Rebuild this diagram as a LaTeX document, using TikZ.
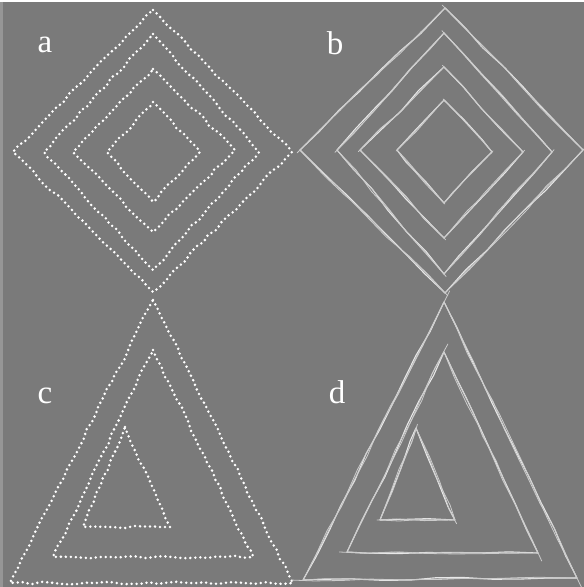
\documentclass[tikz,border=0pt]{standalone}
\usepackage{fontspec}
\setmainfont{Liberation Serif}
\usetikzlibrary{calc,decorations.pathmorphing}
\definecolor{PanelGray}{RGB}{122,122,122}
\definecolor{EdgeGray}{RGB}{150,150,150}
\definecolor{Chalk}{RGB}{232,232,232}
\tikzset{
  dotline/.style={draw=white,line width=2.8pt,line cap=round,dash pattern=on 0pt off 5pt,
    decorate,decoration={random steps,segment length=9pt,amplitude=1.3pt}},
  sketch/.style={draw=Chalk,line width=1.1pt,line cap=round,line join=round,
    decorate,decoration={random steps,segment length=28pt,amplitude=1.4pt}},
  faint/.style={sketch,draw=Chalk!75!PanelGray,line width=0.8pt},
  lab/.style={text=white,font=\fontsize{33}{38}\selectfont,inner sep=0pt},
}

\begin{document}
\begin{tikzpicture}[x=1pt,y=-1pt]
\useasboundingbox (0,0) rectangle (584,587);
\fill[PanelGray] (0,0) rectangle (584,587);
\fill[EdgeGray] (0,0) rectangle (3,587);
\fill[white] (0,0) rectangle (584,1.5);
\pgfmathsetseed{7}
% panel a: dotted diamonds
\coordinate (a1t) at (153,10);  \coordinate (a1r) at (292,152); \coordinate (a1b) at (153,292); \coordinate (a1l) at (13,152);
\coordinate (a2t) at (153,34);  \coordinate (a2r) at (259,152); \coordinate (a2b) at (153,270); \coordinate (a2l) at (44,152);
\coordinate (a3t) at (153,69);  \coordinate (a3r) at (235,150); \coordinate (a3b) at (153,232); \coordinate (a3l) at (73,152);
\coordinate (a4t) at (153,102); \coordinate (a4r) at (200,152); \coordinate (a4b) at (153,202); \coordinate (a4l) at (107,152);
\draw[dotline] (a1t)--(a1r)--(a1b)--(a1l)--cycle;
\draw[dotline] (a2t)--(a2r)--(a2b)--(a2l)--cycle;
\draw[dotline] (a3t)--(a3r)--(a3b)--(a3l)--cycle;
\draw[dotline] (a4t)--(a4r)--(a4b)--(a4l)--cycle;
% panel b: sketched diamonds
\coordinate (b1t) at (445,8);   \coordinate (b1r) at (583,150); \coordinate (b1b) at (445,293); \coordinate (b1l) at (300,150);
\coordinate (b2t) at (444,33);  \coordinate (b2r) at (552,152); \coordinate (b2b) at (444,274); \coordinate (b2l) at (337,150);
\coordinate (b3t) at (444,67);  \coordinate (b3r) at (523,152); \coordinate (b3b) at (444,238); \coordinate (b3l) at (360,150);
\coordinate (b4t) at (444,100); \coordinate (b4r) at (492,152); \coordinate (b4b) at (444,203); \coordinate (b4l) at (397,150);
\foreach \pass in {sketch,faint}{
  \draw[\pass] (b1t)--(b1r)--(b1b)--(b1l)--cycle;
  \draw[\pass] (b2t)--(b2r)--(b2b)--(b2l)--cycle;
  \draw[\pass] (b3t)--(b3r)--(b3b)--(b3l)--cycle;
  \draw[\pass] (b4t)--(b4r)--(b4b)--(b4l)--cycle;
}
% short overshooting strokes, side by side
\foreach \p/\q in {b1t/b1r,b1r/b1b,b1b/b1l,b1l/b1t,b2t/b2r,b2r/b2b,b2b/b2l,b2l/b2t,
                   b3t/b3r,b3r/b3b,b3b/b3l,b3l/b3t,b4t/b4r,b4r/b4b,b4b/b4l,b4l/b4t}
  \draw[faint] ($(\p)!-0.02!(\q)$) -- ($(\q)!0.03!(\p)$);
% panel c: dotted triangles
\coordinate (c1t) at (153,300); \coordinate (c1r) at (293,583); \coordinate (c1l) at (10,583);
\coordinate (c2t) at (153,350); \coordinate (c2r) at (253,557); \coordinate (c2l) at (53,557);
\coordinate (c3t) at (125,427); \coordinate (c3r) at (170,527); \coordinate (c3l) at (83,527);
\draw[dotline] (c1t)--(c1r)--(c1l)--cycle;
\draw[dotline] (c2t)--(c2r)--(c2l)--cycle;
\draw[dotline] (c3t)--(c3r)--(c3l)--cycle;
% panel d: sketched triangles
\coordinate (d1t) at (444,302); \coordinate (d1r) at (577,578); \coordinate (d1l) at (303,580);
\coordinate (d2t) at (444,352); \coordinate (d2r) at (538,553); \coordinate (d2l) at (347,552);
\coordinate (d3t) at (416,428); \coordinate (d3r) at (455,520); \coordinate (d3l) at (380,520);
\foreach \pass in {sketch,faint}{
  \draw[\pass] (d1t)--(d1r)--(d1l)--cycle;
  \draw[\pass] (d2t)--(d2r)--(d2l)--cycle;
  \draw[\pass] (d3t)--(d3r)--(d3l)--cycle;
}
\foreach \p/\q in {d1t/d1r,d1r/d1l,d1l/d1t,d2t/d2r,d2r/d2l,d2l/d2t,d3t/d3r,d3r/d3l,d3l/d3t}
  \draw[faint] ($(\p)!0.04!(\q)$) -- ($(\q)!-0.04!(\p)$);
\node[lab] (labA) at (45,45) {a};
\node[lab] (labB) at (335,43) {b};
\node[lab] (labC) at (45,396) {c};
\node[lab] (labD) at (337,392) {d};
\end{tikzpicture}
\end{document}
